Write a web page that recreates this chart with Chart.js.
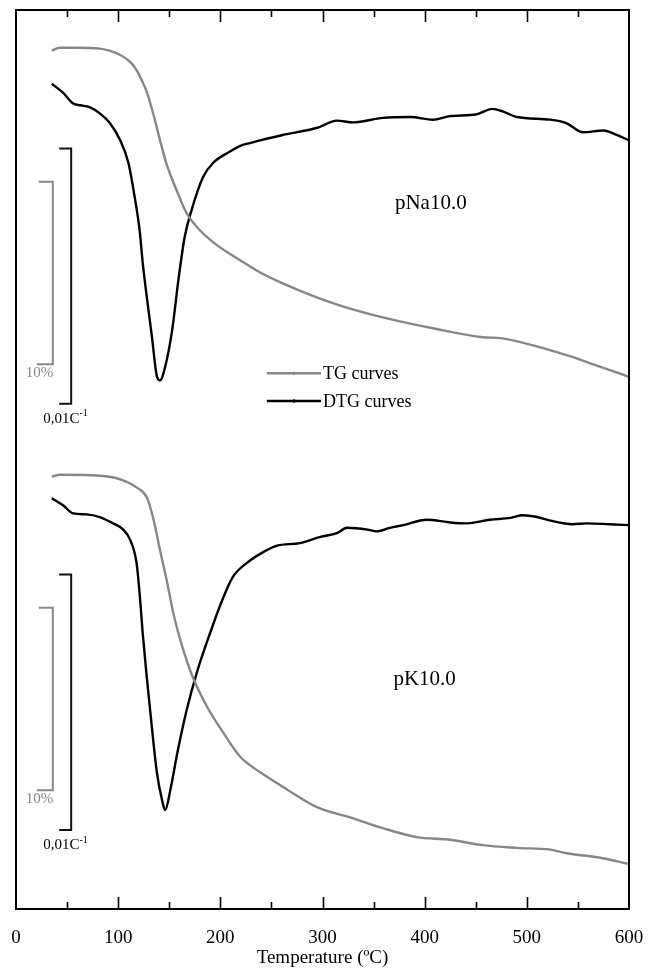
<!DOCTYPE html>
<html>
<head>
<meta charset="utf-8">
<script src="https://cdn.jsdelivr.net/npm/chart.js@4/dist/chart.umd.min.js"></script>
<style>
  html, body { margin: 0; padding: 0; background: #fff; }
  #tgChart { display: block; }
</style>
</head>
<body>
<canvas id="tgChart" width="649" height="970"></canvas>
<script>
// y values are in plot units (0 = bottom of frame, 100 = top), curves are stacked / offset
const tgNaTemp = [35, 43, 60, 82, 102, 112, 118, 123, 128, 134, 141, 147, 157, 167, 180, 196, 219, 239, 261, 310, 359, 408, 457, 474, 506, 539, 572, 600];
const tgNaVal = [95.5, 95.8, 95.8, 95.7, 95.0, 94.2, 93.3, 92.2, 90.9, 88.6, 85.5, 83.0, 80.0, 77.4, 75.5, 73.9, 72.2, 70.8, 69.6, 67.4, 65.8, 64.6, 63.6, 63.5, 62.7, 61.6, 60.3, 59.2];

const dtgNaTemp = [35, 46, 56, 63, 72, 82, 92, 102, 110, 116, 121, 124, 128, 133, 138, 141, 146, 153, 159, 165, 172, 183, 193, 207, 222, 229, 239, 261, 295, 314, 330, 359, 386, 408, 425, 451, 466, 477, 490, 523, 539, 555, 575, 588, 600];
const dtgNaVal = [91.8, 90.8, 89.6, 89.4, 89.2, 88.5, 87.4, 85.5, 83.0, 79.3, 75.5, 71.9, 68.1, 63.7, 59.2, 58.8, 60.3, 64.5, 70.0, 74.7, 77.8, 81.4, 83.0, 84.1, 85.0, 85.2, 85.5, 86.1, 86.9, 87.7, 87.5, 88.0, 88.1, 87.8, 88.2, 88.4, 89.0, 88.7, 88.1, 87.8, 87.4, 86.4, 86.6, 86.1, 85.5];

const tgKTemp = [35, 43, 82, 102, 118, 128, 134, 141, 148, 154, 163, 173, 187, 203, 219, 229, 239, 261, 295, 327, 359, 392, 425, 457, 490, 523, 539, 572, 600];
const tgKVal = [48.1, 48.3, 48.2, 47.8, 46.9, 45.8, 43.6, 39.9, 36.3, 32.9, 29.1, 25.8, 22.5, 19.6, 17.0, 16.0, 15.2, 13.6, 11.3, 10.2, 9.0, 8.0, 7.7, 7.1, 6.8, 6.6, 6.2, 5.7, 5.0];

const dtgKTemp = [35, 46, 56, 69, 82, 95, 105, 112, 118, 121, 124, 128, 133, 138, 143, 146, 151, 158, 167, 177, 190, 202, 212, 226, 242, 255, 278, 298, 314, 324, 344, 353, 366, 379, 402, 425, 441, 464, 484, 496, 510, 523, 545, 559, 581, 600];
const dtgKVal = [45.7, 44.9, 44.0, 43.9, 43.6, 42.9, 42.2, 41.0, 38.5, 35.1, 30.7, 25.8, 20.2, 15.1, 12.1, 11.0, 13.2, 17.4, 22.1, 26.3, 30.7, 34.4, 36.9, 38.5, 39.7, 40.4, 40.7, 41.4, 41.8, 42.4, 42.2, 42.0, 42.4, 42.7, 43.3, 43.0, 42.9, 43.3, 43.5, 43.8, 43.6, 43.2, 42.8, 42.9, 42.8, 42.7];

const xTicks = [0, 100, 200, 300, 400, 500, 600];
const seriesNames = ["TG curves", "DTG curves"];
const sampleNames = ["pNa10.0", "pK10.0"];

// scale bars: [temp of bar, bottom, top] in plot units
const tgBars = [[36, 60.6, 80.9], [36, 13.2, 33.5]];
const dtgBars = [[54, 56.2, 84.6], [54, 8.8, 37.2]];

const GREY = "#878787";
const serif = "'Liberation Serif', 'Times New Roman', serif";

function pts(xs, ys) {
	return xs.map((x, i) => ({ x: x, y: ys[i] }));
}

function curve(label, data, color) {
	return {
		label: label,
		data: data,
		borderColor: color,
		borderWidth: 2.4,
		pointRadius: 0,
		cubicInterpolationMode: "monotone",
	};
}

const decor = {
	id: "decor",
	afterDraw(chart) {
		const { ctx, chartArea: a, scales } = chart;
		const X = (v) => scales.x.getPixelForValue(v);
		const Y = (v) => scales.y.getPixelForValue(v);
		ctx.save();

		// frame
		ctx.strokeStyle = "#000";
		ctx.lineWidth = 2;
		ctx.strokeRect(a.left, a.top, a.right - a.left, a.bottom - a.top);

		// inward ticks top and bottom
		ctx.lineWidth = 1.6;
		for (let t = 50; t < 600; t += 50) {
			const len = t % 100 === 0 ? 12 : 7;
			const px = Math.round(X(t)) + 0.5;
			ctx.beginPath();
			ctx.moveTo(px, a.bottom);
			ctx.lineTo(px, a.bottom - len);
			ctx.moveTo(px, a.top);
			ctx.lineTo(px, a.top + len);
			ctx.stroke();
		}

		// tick labels
		ctx.fillStyle = "#000";
		ctx.font = "19px " + serif;
		ctx.textAlign = "center";
		ctx.textBaseline = "middle";
		xTicks.forEach((t) => ctx.fillText(String(t), X(t), a.bottom + 29));

		// scale bars
		ctx.lineWidth = 2;
		tgBars.forEach(([t, lo, hi]) => {
			ctx.strokeStyle = GREY;
			ctx.beginPath();
			ctx.moveTo(X(t) - 14, Y(hi));
			ctx.lineTo(X(t), Y(hi));
			ctx.lineTo(X(t), Y(lo));
			ctx.lineTo(X(t) - 16, Y(lo));
			ctx.stroke();
			ctx.fillStyle = GREY;
			ctx.font = "15px " + serif;
			ctx.textAlign = "left";
			ctx.textBaseline = "top";
			ctx.fillText("10%", X(t) - 27, Y(lo) + 1);
		});
		dtgBars.forEach(([t, lo, hi]) => {
			ctx.strokeStyle = "#111";
			ctx.beginPath();
			ctx.moveTo(X(t) - 12, Y(hi));
			ctx.lineTo(X(t), Y(hi));
			ctx.lineTo(X(t), Y(lo));
			ctx.lineTo(X(t) - 12, Y(lo));
			ctx.stroke();
			ctx.fillStyle = "#000";
			ctx.font = "15px " + serif;
			ctx.textAlign = "left";
			ctx.textBaseline = "top";
			const x0 = X(t) - 28, y0 = Y(lo) + 8;
			ctx.fillText("0,01C", x0, y0);
			const w = ctx.measureText("0,01C").width;
			ctx.font = "10px " + serif;
			ctx.fillText("-1", x0 + w, y0 - 3);
		});

		// sample names
		ctx.fillStyle = "#000";
		ctx.font = "21px " + serif;
		ctx.textAlign = "center";
		ctx.textBaseline = "middle";
		ctx.fillText(sampleNames[0], X(406), Y(78.5));
		ctx.fillText(sampleNames[1], X(400), Y(25.5));

		// legend
		const legendY = [59.6, 56.5];
		const legendCol = [GREY, "#000"];
		seriesNames.forEach((name, i) => {
			const y = Y(legendY[i]);
			ctx.strokeStyle = legendCol[i];
			ctx.lineWidth = 2.4;
			ctx.beginPath();
			ctx.moveTo(X(245.5), y);
			ctx.lineTo(X(298.5), y);
			ctx.stroke();
			ctx.fillStyle = legendCol[i];
			ctx.beginPath();
			ctx.arc((X(245.5) + X(298.5)) / 2, y, 1.8, 0, Math.PI * 2);
			ctx.fill();
			ctx.fillStyle = "#000";
			ctx.font = "18px " + serif;
			ctx.textAlign = "left";
			ctx.textBaseline = "middle";
			ctx.fillText(name, X(300.5), y + 1);
		});
		ctx.restore();
	},
};

new Chart(document.getElementById("tgChart"), {
	type: "line",
	data: {
		datasets: [
			curve("TG pNa10.0", pts(tgNaTemp, tgNaVal), GREY),
			curve("DTG pNa10.0", pts(dtgNaTemp, dtgNaVal), "#000"),
			curve("TG pK10.0", pts(tgKTemp, tgKVal), GREY),
			curve("DTG pK10.0", pts(dtgKTemp, dtgKVal), "#000"),
		],
	},
	options: {
		responsive: false,
		animation: false,
		layout: { padding: { left: 16, right: 20, top: 10, bottom: 0 } },
		plugins: { legend: { display: false }, tooltip: { enabled: false } },
		scales: {
			x: {
				type: "linear",
				min: 0,
				max: 600,
				afterFit: (s) => { s.height = 61; },
				grid: { display: false, drawTicks: false },
				border: { display: false },
				ticks: { display: false },
				title: {
					display: true,
					text: "Temperature (ºC)",
					color: "#000",
					padding: { top: 0, bottom: 1 },
					font: { family: serif, size: 19 },
				},
			},
			y: { display: false, min: 0, max: 100 },
		},
	},
	plugins: [decor],
});
</script>
</body>
</html>
